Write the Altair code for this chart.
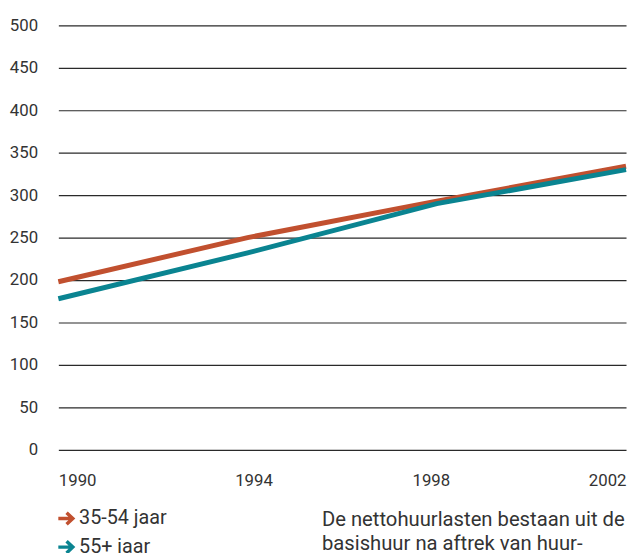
import altair as alt
import pandas as pd

years = [1990, 1994, 1998, 2002]
age_35_54 = [198, 250, 293, 334]
age_55_plus = [178, 232, 290, 330]
series_names = ["35-54 jaar", "55+ jaar"]
y_ticks = [0, 50, 100, 150, 200, 250, 300, 350, 400, 450, 500]
note_lines = ["De nettohuurlasten bestaan uit de", "basishuur na aftrek van huur-"]

rows = []
for name, vals in zip(series_names, [age_35_54, age_55_plus]):
    for yr, v in zip(years, vals):
        rows.append({"jaar": yr, "waarde": v, "groep": name})
df = pd.DataFrame(rows)

FONT = "Roboto"
TXT = "#333333"
ARROW = "M-0.9,0L0.7,0M0.1,-0.7L0.85,0L0.1,0.7"

lines = alt.Chart(df).mark_line(strokeWidth=5, strokeCap="butt").encode(
    x=alt.X("jaar:Q", scale=alt.Scale(domain=[1990, 2002], nice=False, zero=False),
            axis=alt.Axis(values=years, format="d", title=None, grid=False, domain=False,
                          ticks=False, labelFlush=True, labelPadding=23,
                          labelFontSize=17, labelFont=FONT, labelColor=TXT,
                          labelOffset={"expr": "datum.value == 1994 ? 6 : datum.value == 1998 ? -6 : 0"})),
    y=alt.Y("waarde:Q", scale=alt.Scale(domain=[0, 500], nice=False),
            axis=alt.Axis(values=y_ticks, title=None, domain=False, ticks=False,
                          grid=True, gridColor="#2a2a2a", gridWidth=1.2, gridOpacity=1,
                          labelPadding=21, labelFontSize=17, labelFont=FONT,
                          labelColor=TXT)),
    color=alt.Color("groep:N",
                    scale=alt.Scale(domain=series_names, range=["#c1502f", "#0a8491"]),
                    legend=alt.Legend(title=None, orient="none", legendX=-3, legendY=489,
                                      symbolType=ARROW, symbolSize=280, symbolStrokeWidth=3.5,
                                      symbolFillColor="transparent", labelFontSize=20,
                                      labelFont=FONT, labelColor=TXT,
                                      labelOffset=3, rowPadding=2, padding=0)),
    detail="groep:N",
)

note = alt.Chart(pd.DataFrame({"t": [note_lines]})).mark_text(
    align="left", baseline="middle", fontSize=20.5, font=FONT,
    color=TXT, lineHeight=24
).encode(text="t:N", x=alt.value(267), y=alt.value(501))

chart = alt.layer(lines, note).properties(
    width=575, height=430,
    autosize=alt.AutoSizeParams(type="none"),
    padding={"left": 51, "top": 14, "right": 2, "bottom": 110},
).configure_view(stroke=None)

chart.save("out.html", embed_options={"renderer": "svg", "actions": False})
